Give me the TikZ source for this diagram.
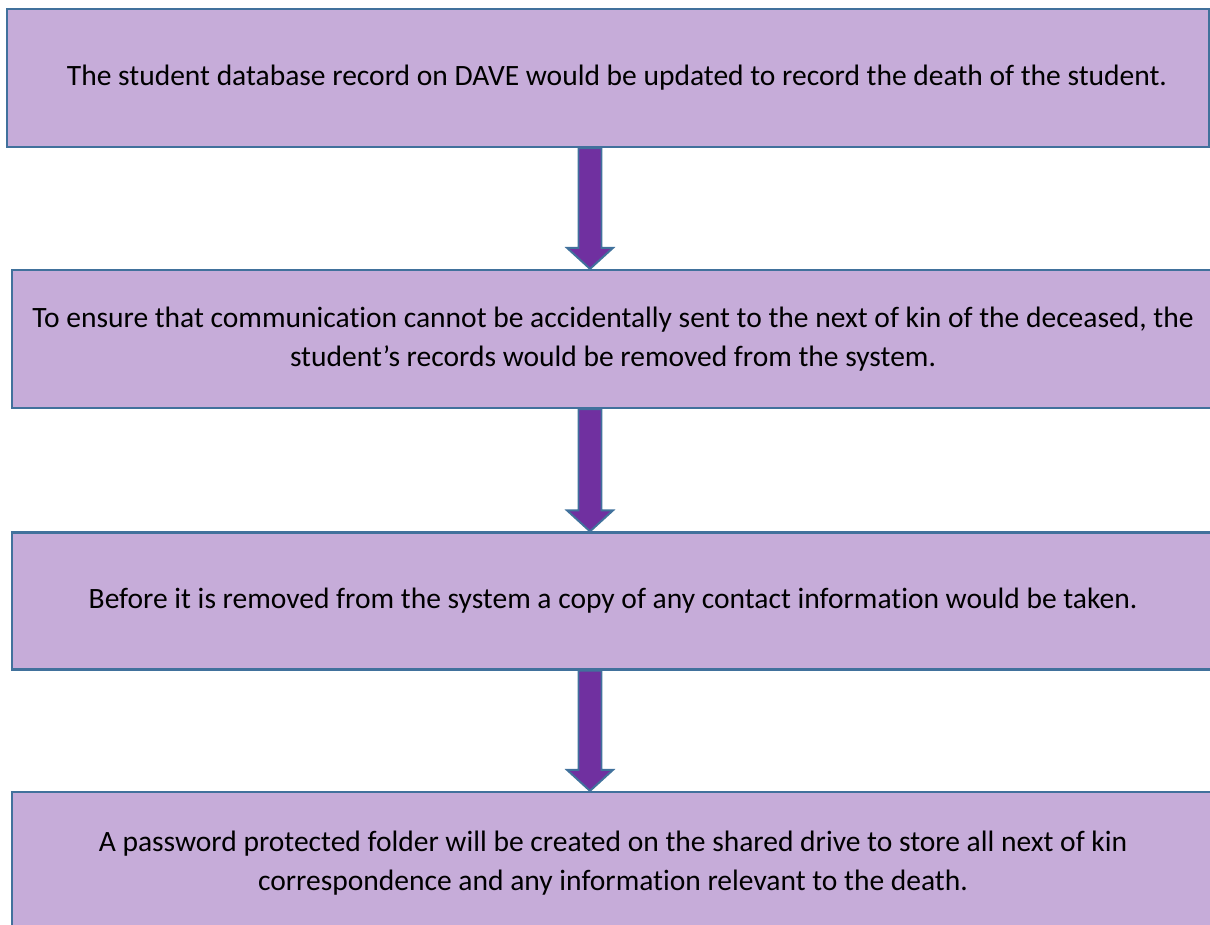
\documentclass[tikz,border=0pt]{standalone}
\usepackage{fontspec}
\setmainfont{Carlito}[Ligatures=NoCommon]
\usetikzlibrary{calc,positioning}
\definecolor{boxfill}{RGB}{198,172,217}
\definecolor{boxline}{RGB}{65,113,156}
\definecolor{arrowfill}{RGB}{112,48,160}
\tikzset{
stepbox/.style={
  rectangle,
  draw=boxline,
  fill=boxfill,
  line width=1.3pt,
  minimum width=24.04cm,
  minimum height=2.76cm,
  align=center,
  inner sep=0pt,
  font=\fontsize{16.8}{21.8}\selectfont
  }
}
\tikzset{
  blockarrow/.style={
    draw=boxline,
    fill=arrowfill,
    line width=1.1pt,
    line join=miter,
    to path={
      ($(\tikztostart)+(-11.5,0)$) -- ($(\tikztostart)+(11.5,0)$)
      -- ($(\tikztotarget)+(11.5,-21)$) -- ($(\tikztotarget)+(23,-21)$)
      -- (\tikztotarget)
      -- ($(\tikztotarget)+(-23,-21)$) -- ($(\tikztotarget)+(-11.5,-21)$)
      -- cycle}
  }
}

\begin{document}
\begin{tikzpicture}[x=0.02cm,y=-0.02cm]
\useasboundingbox (0,0) rectangle (1210,924);
\node[stepbox] at (608,78) (rec)
  {\hspace*{0.36cm}The student database record on DAVE would be updated to record the death of the student.};
\node[stepbox] at (613,339) (remove)
  {To ensure that communication cannot be accidentally sent to the next of kin of the deceased, the\\
   student’s records would be removed from the system.};
\node[stepbox, minimum height=2.74cm] at (613,601) (copy)
  {Before it is removed from the system a copy of any contact information would be taken.};
\node[stepbox, minimum height=2.84cm] at (613,863) (folder)
  {A password protected folder will be created on the shared drive to store all next of kin\\
   correspondence and any information relevant to the death.};

\coordinate (acol) at (590,0);
\begin{scope}
\draw[blockarrow]
  (rec.south -| acol) to (remove.north -| acol);
\draw[blockarrow]
  (remove.south -| acol) to (copy.north -| acol);
\draw[blockarrow]
  (copy.south -| acol) to (folder.north -| acol);
\end{scope}
\end{tikzpicture}
\end{document}
